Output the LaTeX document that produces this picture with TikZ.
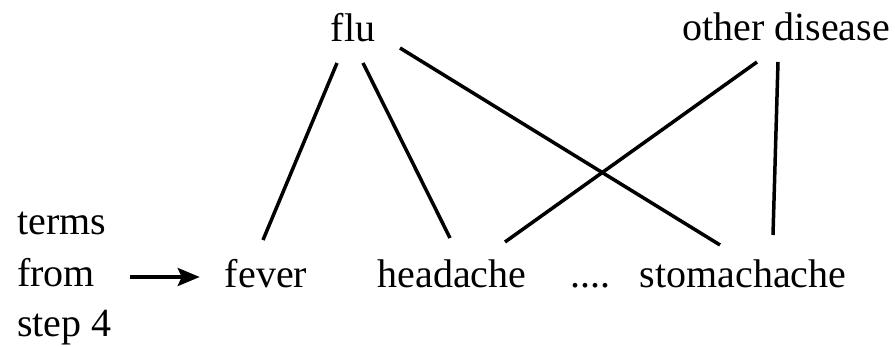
\documentclass[tikz,border=0pt]{standalone}
\usepackage{fontspec}
\setmainfont{Liberation Serif}
\usetikzlibrary{arrows.meta}
\tikzset{
  term/.style={inner sep=0pt, font=\fontsize{40}{48}\selectfont},
  link/.style={line width=3.5pt}
}
\begin{document}
\begin{tikzpicture}[x=1pt,y=-1pt]
                \useasboundingbox (0,0) rectangle (895,347);
                \node[term,anchor=base] (flu) at (353,42) {flu};
                \node[term,anchor=base] (other) at (786,41) {other disease};
                \node[term,anchor=base west] (terms) at (17,235) {terms};
                \node[term,anchor=base west] (from) at (17,287) {from};
                \node[term,anchor=base west] (step) at (17,337) {step 4};
                \node[term,anchor=base] (fever) at (266,288) {fever};
                \node[term,anchor=base] (headache) at (452,288) {headache};
                \node[term,anchor=base] (dots) at (590,288) {....};
                \node[term,anchor=base] (stomach) at (743,288) {stomachache};
                \draw[link,-{Stealth[length=22pt,width=18pt,inset=4pt]}]
                    ([shift={(35,-10)}]from.base east) -- ([shift={(-25,-11)}]fever.base west);
                \draw[link] ([shift={(-16,21)}]flu.base) -- ([shift={(-3,-48)}]fever.base);
                \draw[link] ([shift={(10,21)}]flu.base) -- ([shift={(-2,-50)}]headache.base);
                \draw[link] ([shift={(47,6)}]flu.base) -- ([shift={(-23,-43)}]stomach.base);
                \draw[link] ([shift={(-29,21)}]other.base) -- ([shift={(53,-46)}]headache.base);
                \draw[link] ([shift={(-8,21)}]other.base) -- ([shift={(30,-53)}]stomach.base);
            \end{tikzpicture}
\end{document}
